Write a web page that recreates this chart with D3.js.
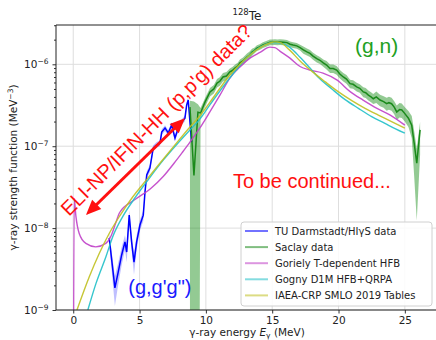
<!DOCTYPE html>
<html><head><meta charset="utf-8">
<script src="https://cdn.jsdelivr.net/npm/d3@7"></script>
<style>body{margin:0;background:#fff}svg{display:block}</style>
</head><body><svg id="c" width="436" height="340"></svg>
<script>
// ---------------- data ----------------
const xTicks = [0, 5, 10, 15, 20, 25];
const yTicks = [1e-9, 1e-8, 1e-7, 1e-6];
const yTickExp = ["−9", "−8", "−7", "−6"];
const yMinor = [2e-9,3e-9,4e-9,5e-9,6e-9,7e-9,8e-9,9e-9,2e-8,3e-8,4e-8,5e-8,6e-8,7e-8,8e-8,9e-8,
                2e-7,3e-7,4e-7,5e-7,6e-7,7e-7,8e-7,9e-7,2e-6,3e-6];

// TU Darmstadt / HIgS (g,g'g'')
const tuE = [2.71,3.14,3.39,3.65,3.9,4.03,4.22,4.4,4.58,4.78,5.03,5.28,5.41,5.54,5.78,6.03,6.29,6.54,6.67,6.92,7.16,7.42,7.67,7.92,8.18,8.42,8.55,8.67,8.8,8.93];
const tuF = [7.6e-9,1.86e-9,2.9e-9,4.7e-9,6.8e-9,5.1e-9,1.44e-8,6.8e-9,3.85e-9,6.8e-9,1.09e-8,1.44e-8,2.76e-8,4.45e-8,5.4e-8,9.5e-8,1.04e-7,1.09e-7,1.49e-7,1.67e-7,1.45e-7,1.81e-7,1.26e-7,1.67e-7,1.97e-7,2.2e-7,3.18e-7,3.66e-7,1.97e-7,1.12e-7];
const tuErr = [0.15,0.4,0.3,0.25,0.2,0.25,0.15,0.2,0.3,0.2,0.15,0.15,0.12,0.1,0.1,0.08,0.08,0.08,0.08,0.08,0.08,0.08,0.1,0.08,0.08,0.08,0.08,0.08,0.1,0.1];

// Saclay (g,n)
const sacE = [8.80,9.10,9.40,9.60,9.93,10.31,10.6,10.84,11.05,11.29,11.55,11.81,12.0,12.19,12.4,12.57,12.8,13.1,13.3,13.48,
  13.65,13.85,14.05,14.3,14.55,14.83,15.0,15.21,15.4,15.58,15.85,16.11,16.35,16.57,16.85,17.1,17.35,17.62,17.85,18.08,
  18.36,18.6,18.85,19.1,19.36,19.6,19.86,20.1,20.36,20.6,20.87,21.1,21.37,21.6,21.87,22.05,22.25,22.45,22.62,22.85,
  23.13,23.4,23.63,23.8,24.0,24.2,24.39,24.6,24.77,25.0,25.27,25.52,25.7,25.9,26.15];
const sacF = [3.0e-7,4.4e-8,2.6e-7,2.55e-7,3.45e-7,4.6e-7,5.0e-7,5.9e-7,6.2e-7,7.0e-7,7.2e-7,8.1e-7,8.4e-7,9.0e-7,9.5e-7,1.04e-6,1.1e-6,1.23e-6,1.3e-6,1.41e-6,
  1.47e-6,1.58e-6,1.63e-6,1.72e-6,1.78e-6,1.86e-6,1.86e-6,1.87e-6,1.86e-6,1.87e-6,1.86e-6,1.84e-6,1.76e-6,1.72e-6,1.68e-6,1.6e-6,1.5e-6,1.42e-6,1.36e-6,1.26e-6,
  1.17e-6,1.12e-6,1.04e-6,9.8e-7,8.9e-7,8.9e-7,8.5e-7,7.6e-7,7.0e-7,6.6e-7,5.8e-7,5.7e-7,5.3e-7,5.1e-7,4.6e-7,4.5e-7,4.2e-7,4.0e-7,3.8e-7,4.0e-7,
  3.66e-7,3.5e-7,3.3e-7,3.4e-7,3.3e-7,3.0e-7,2.62e-7,2.8e-7,2.77e-7,2.5e-7,2.2e-7,1.8e-7,1.1e-7,6.2e-8,1.58e-7];
const sacErrLo = [1,1,1,0.15,0.12,0.12,0.12,0.12,0.12,0.12,0.12,0.1,0.1,0.1,0.1,0.1,0.1,0.1,0.1,0.1,
  0.08,0.08,0.08,0.08,0.08,0.08,0.08,0.08,0.08,0.08,0.08,0.08,0.08,0.08,0.08,0.08,0.1,0.1,0.1,0.1,
  0.1,0.1,0.1,0.12,0.12,0.12,0.12,0.12,0.12,0.12,0.12,0.12,0.12,0.12,0.14,0.14,0.14,0.14,0.14,0.16,
  0.16,0.16,0.18,0.18,0.18,0.18,0.2,0.2,0.2,0.2,0.22,0.3,0.6,0.8,0.5];
const sacErrHi = [0.2,7,0.25,0.15,0.12,0.12,0.12,0.12,0.12,0.12,0.12,0.1,0.1,0.1,0.1,0.1,0.1,0.1,0.1,0.1,
  0.08,0.08,0.08,0.08,0.08,0.08,0.08,0.08,0.08,0.08,0.08,0.08,0.08,0.08,0.08,0.08,0.1,0.1,0.1,0.1,
  0.1,0.1,0.1,0.12,0.12,0.12,0.12,0.12,0.12,0.12,0.12,0.12,0.12,0.12,0.14,0.14,0.14,0.14,0.14,0.16,
  0.16,0.16,0.18,0.18,0.18,0.18,0.2,0.2,0.2,0.2,0.22,0.3,0.4,0.5,0.25];

// Goriely T-dependent HFB
const gorE = [0.0,0.07,0.2,0.45,0.95,1.7,2.45,2.85,3.2,3.5,4.6,5.8,6.8,7.6,8.2,8.8,9.55,10.3,11.06,11.81,12.57,13.32,14.08,14.83,15.2,15.58,16.34,17.1,17.85,18.83,19.9,20.9,21.85,22.9,23.9,25.0];
const gorF = [1e-11,2.3e-8,1.4e-8,8.6e-9,6.5e-9,5.9e-9,6.5e-9,8.0e-9,1.15e-8,1.55e-8,2.2e-8,3.0e-8,4.3e-8,6.2e-8,8.3e-8,1.12e-7,1.67e-7,2.62e-7,4.2e-7,6.8e-7,9.3e-7,1.19e-6,1.4e-6,1.62e-6,1.6e-6,1.45e-6,1.19e-6,9.4e-7,8.5e-7,7.8e-7,6.4e-7,4.6e-7,3.66e-7,2.9e-7,2.4e-7,1.81e-7];

// Gogny D1M HFB+QRPA
const gogE = [1.1,1.71,2.47,2.97,3.75,4.7,5.8,6.8,7.8,8.8,9.5,10.3,11.8,13.3,14.5,15.0,15.5,16.3,17.1,17.85,18.45,19.5,20.5,21.5,22.5,23.5,24.3,25.0];
const gogF = [1e-9,2.1e-9,4.5e-9,7.8e-9,1.4e-8,2.4e-8,4.2e-8,6.8e-8,1.05e-7,1.58e-7,2.1e-7,3.2e-7,6.8e-7,1.3e-6,1.75e-6,1.85e-6,1.83e-6,1.62e-6,1.22e-6,9.0e-7,7.0e-7,5.0e-7,3.7e-7,2.9e-7,2.3e-7,1.9e-7,1.63e-7,1.44e-7];

// IAEA-CRP SMLO 2019
const smloE = [0.28,1.21,1.96,2.71,3.47,4.48,5.5,6.5,7.5,8.8,9.5,10.31,11.06,11.81,12.57,13.32,14.08,14.83,15.2,15.6,16.3,17.1,18.0,19.0,20.0,21.0,22.0,23.0,24.0,25.0];
const smloF = [1e-9,2.55e-9,4.9e-9,8.6e-9,1.38e-8,2.4e-8,3.85e-8,6.1e-8,9.6e-8,1.72e-7,2.3e-7,3.45e-7,5.1e-7,7.4e-7,1.0e-6,1.3e-6,1.6e-6,1.82e-6,1.88e-6,1.84e-6,1.5e-6,1.1e-6,8.2e-7,6.1e-7,4.6e-7,3.6e-7,2.9e-7,2.4e-7,2.0e-7,1.66e-7];

const legendLabels = ["TU Darmstadt/HIγS data","Saclay data","Goriely T-dependent HFB","Gogny D1M HFB+QRPA","IAEA-CRP SMLO 2019 Tables"];
const seriesColors = ["#0000ff","#1a8a1a","#c040c8","#20c0c8","#c0c020"];

// annotations (data coordinates)
const arrowEnds = [[0.96,1.45e-8],[8.42,2.2e-7]];
const eliText = {E:-0.32, f:1.37e-8, text:"ELI-NP/IFIN-HH (p,p'g) data?"};
const contText = {E:12.04, f:3.13e-8, text:"To be continued..."};
const gnText = {E:21.24, f:1.39e-6, text:"(g,n)"};
const gggText = {E:4.15, f:1.57e-9, text:"(g,g'g\")"};

// ---------------- chart ----------------
const svg = d3.select("#c");
const L=56, R=438, T=25, B=310;
const x = d3.scaleLinear().domain([-1.3,27.5]).range([L,R]);
const y = d3.scaleLog().domain([1e-9, 3.02e-6]).range([B,T]);
const FONT = "'DejaVu Sans', sans-serif";
const AFONT = "'Liberation Sans', Arial, sans-serif";

svg.append("defs").append("clipPath").attr("id","clip")
  .append("rect").attr("x",L).attr("y",T).attr("width",R-L).attr("height",B-T);

// grid
const g = svg.append("g");
g.selectAll(".gx").data(xTicks).enter().append("line")
  .attr("x1",d=>x(d)).attr("x2",d=>x(d)).attr("y1",T).attr("y2",B)
  .attr("stroke","#dedede").attr("stroke-width",1);
g.selectAll(".gy").data(yTicks).enter().append("line")
  .attr("x1",L).attr("x2",R).attr("y1",d=>y(d)).attr("y2",d=>y(d))
  .attr("stroke","#dedede").attr("stroke-width",1);

const plot = svg.append("g").attr("clip-path","url(#clip)");
const clampY = v => Math.max(v, 1e-14);

// TU band + line
const tuData = tuE.map((e,i)=>({e, f:tuF[i], lo:tuF[i]*(1-tuErr[i]), hi:tuF[i]*(1+tuErr[i])}));
plot.append("path").datum(tuData)
  .attr("d", d3.area().x(d=>x(d.e)).y0(d=>y(clampY(d.lo))).y1(d=>y(d.hi)))
  .attr("fill","#0000ff").attr("opacity",0.25);

// Saclay band
const sacData = sacE.map((e,i)=>({e, f:sacF[i], lo:sacF[i]*(1-sacErrLo[i]), hi:sacF[i]*(1+sacErrHi[i])}));
plot.append("path").datum(sacData)
  .attr("d", d3.area().x(d=>x(d.e)).y0(d=>y(clampY(d.lo))).y1(d=>y(d.hi)))
  .attr("fill","#108a10").attr("opacity",0.45);

const lineLin = d3.line().x(d=>x(d.e)).y(d=>y(clampY(d.f)));
const lineSmooth = d3.line().x(d=>x(d.e)).y(d=>y(clampY(d.f))).curve(d3.curveMonotoneX);

plot.append("path").datum(tuData).attr("d",lineLin)
  .attr("fill","none").attr("stroke",seriesColors[0]).attr("stroke-width",1.5);
plot.append("path").datum(sacData).attr("d",lineLin)
  .attr("fill","none").attr("stroke",seriesColors[1]).attr("stroke-width",1.5);

const models = [[gorE,gorF,2],[gogE,gogF,3],[smloE,smloF,4]];
models.forEach(([E,F,ci])=>{
  plot.append("path").datum(E.map((e,i)=>({e,f:F[i]}))).attr("d",lineSmooth)
    .attr("fill","none").attr("stroke",seriesColors[ci]).attr("stroke-width",1.4).attr("opacity",0.9);
});

// axes
const xAxis = svg.append("g").attr("transform",`translate(0,${B})`)
  .call(d3.axisBottom(x).tickValues(xTicks).tickSize(3.5).tickPadding(3).tickFormat(d=>String(d)));
xAxis.select(".domain").remove();
xAxis.selectAll("text").attr("font-family",FONT).attr("font-size","10.5px").attr("fill","#222");
xAxis.selectAll("line").attr("stroke","#333");

const yAxis = svg.append("g").attr("transform",`translate(${L},0)`)
  .call(d3.axisLeft(y).tickValues(yTicks).tickSize(3.5).tickPadding(4).tickFormat(()=>""));
yAxis.select(".domain").remove();
yAxis.selectAll("line").attr("stroke","#333");
yAxis.selectAll(".tick text").each(function(d,i){
  const t = d3.select(this).attr("font-family",FONT).attr("font-size","10.5px").attr("fill","#222").attr("dy","0.35em");
  t.append("tspan").text("10");
  t.append("tspan").attr("font-size","7.5px").attr("dy","-0.55em").text(yTickExp[i]);
});
const yMin = svg.append("g").attr("transform",`translate(${L},0)`)
  .call(d3.axisLeft(y).tickValues(yMinor).tickSize(2).tickFormat(()=>""));
yMin.select(".domain").remove();
yMin.selectAll("line").attr("stroke","#333");

// spines
svg.append("line").attr("x1",L).attr("x2",L).attr("y1",T).attr("y2",B).attr("stroke","#222").attr("stroke-width",1);
svg.append("line").attr("x1",L).attr("x2",R).attr("y1",B).attr("y2",B).attr("stroke","#222").attr("stroke-width",1);
svg.append("line").attr("x1",L).attr("x2",R).attr("y1",T).attr("y2",T).attr("stroke","#222").attr("stroke-width",1);

// labels
const xl = svg.append("text").attr("x",(L+R)/2).attr("y",336).attr("text-anchor","middle")
  .attr("font-family",FONT).attr("font-size","10.5px").attr("fill","#222");
xl.append("tspan").text("γ-ray energy ");
xl.append("tspan").attr("font-style","italic").text("E");
xl.append("tspan").attr("font-size","7.5px").attr("dy","2").text("γ");
xl.append("tspan").attr("dy","-2").text(" (MeV)");

const yl = svg.append("text").attr("transform",`translate(17,${(T+B)/2}) rotate(-90)`).attr("text-anchor","middle")
  .attr("font-family",FONT).attr("font-size","10.5px").attr("fill","#222");
yl.append("tspan").text("γ-ray strength function (MeV");
yl.append("tspan").attr("font-size","7.5px").attr("dy","-4").text("−3");
yl.append("tspan").attr("dy","4").text(")");

const title = svg.append("text").attr("x",(L+R)/2).attr("y",19.5).attr("text-anchor","middle")
  .attr("font-family",FONT).attr("font-size","12px").attr("fill","#222");
title.append("tspan").attr("font-size","8.5px").attr("dy","-4.5").text("128");
title.append("tspan").attr("dy","4.5").text("Te");

// legend
const lg = svg.append("g");
lg.append("rect").attr("x",241).attr("y",222).attr("width",191).attr("height",84).attr("rx",3)
  .attr("fill","#fff").attr("fill-opacity",0.85).attr("stroke","#d0d0d0").attr("stroke-width",1);
legendLabels.forEach((lab,i)=>{
  const yy = 231 + i*16.1;
  lg.append("line").attr("x1",245).attr("x2",268).attr("y1",yy).attr("y2",yy)
    .attr("stroke",seriesColors[i]).attr("stroke-width",2).attr("opacity",0.55);
  lg.append("text").attr("x",275).attr("y",yy).attr("dy","0.35em")
    .attr("font-family",FONT).attr("font-size","10px").attr("fill","#222").text(lab);
});

// annotations
const red = "#ff1010";
const p1 = [x(arrowEnds[0][0]), y(arrowEnds[0][1])];
const p2 = [x(arrowEnds[1][0]), y(arrowEnds[1][1])];
function head(tip, from, len, half){
  const dx=tip[0]-from[0], dy=tip[1]-from[1], Ln=Math.hypot(dx,dy), ux=dx/Ln, uy=dy/Ln;
  const bx=tip[0]-ux*len, by=tip[1]-uy*len;
  return [[tip[0],tip[1]],[bx-uy*half,by+ux*half],[bx+uy*half,by-ux*half]];
}
function shrink(a,b,len){const dx=b[0]-a[0],dy=b[1]-a[1],Ln=Math.hypot(dx,dy);return [a[0]+dx/Ln*len,a[1]+dy/Ln*len];}
const s1 = shrink(p1,p2,12), s2 = shrink(p2,p1,12);
svg.append("line").attr("x1",s1[0]).attr("y1",s1[1]).attr("x2",s2[0]).attr("y2",s2[1])
  .attr("stroke",red).attr("stroke-width",3);
[head(p1,p2,15,6.5), head(p2,p1,15,6.5)].forEach(pts=>{
  svg.append("polygon").attr("points",pts.map(p=>p.join(",")).join(" ")).attr("fill",red);
});

svg.append("text").attr("transform",`translate(${x(eliText.E)},${y(eliText.f)}) rotate(-45)`)
  .attr("font-family",AFONT).attr("font-size","20px").attr("fill",red).text(eliText.text);
svg.append("text").attr("x",x(contText.E)).attr("y",y(contText.f))
  .attr("font-family",AFONT).attr("font-size","20px").attr("fill",red).text(contText.text);
svg.append("text").attr("x",x(gnText.E)).attr("y",y(gnText.f))
  .attr("font-family",AFONT).attr("font-size","21px").attr("fill","#22a022").text(gnText.text);
svg.append("text").attr("x",x(gggText.E)).attr("y",y(gggText.f))
  .attr("font-family",AFONT).attr("font-size","20px").attr("fill","#1a1aff").text(gggText.text);
</script></body></html>
